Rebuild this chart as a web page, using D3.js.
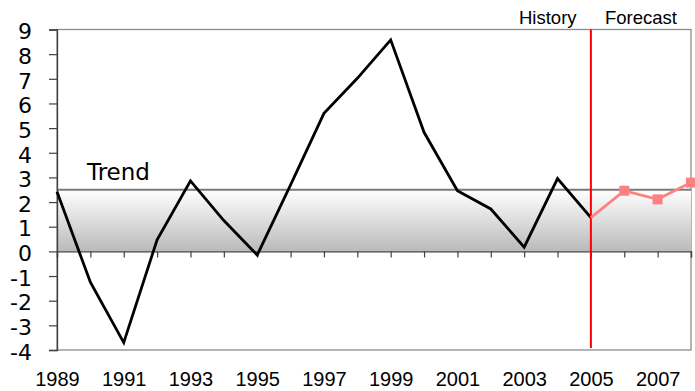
<!DOCTYPE html>
<html>
<head>
<meta charset="utf-8">
<script src="https://cdn.jsdelivr.net/npm/d3@7"></script>
<style>
  html, body { margin: 0; padding: 0; background: #fff; }
  svg { display: block; }
</style>
</head>
<body>
<svg id="chart" width="695" height="391"></svg>
<script>
// Annual values, history through 2005, forecast after
const historyYears = [1989, 1990, 1991, 1992, 1993, 1994, 1995, 1996, 1997, 1998,
                      1999, 2000, 2001, 2002, 2003, 2004, 2005];
const historyValues = [2.42, -1.25, -3.7, 0.47, 2.86, 1.25, -0.15, 2.7, 5.6, 7.02,
                       8.58, 4.83, 2.46, 1.72, 0.17, 2.95, 1.37];
const forecastYears = [2005, 2006, 2007, 2008];
const forecastValues = [1.37, 2.46, 2.11, 2.79];
const trendValue = 2.5;
const splitYear = 2005;
const yTicks = [-4, -3, -2, -1, 0, 1, 2, 3, 4, 5, 6, 7, 8, 9];
const xLabelYears = [1989, 1991, 1993, 1995, 1997, 1999, 2001, 2003, 2005, 2007];

const svg = d3.select("#chart");
const plotLeft = 57, plotRight = 691, plotTop = 29.5, plotBottom = 350;

const x = d3.scaleLinear().domain([1989, 2008]).range([plotLeft, plotRight]);
const y = d3.scaleLinear().domain([-4, 9]).range([plotBottom, plotTop]);

// band gradient
const defs = svg.append("defs");
const grad = defs.append("linearGradient").attr("id", "bandGrad")
  .attr("x1", 0).attr("y1", 0).attr("x2", 0).attr("y2", 1);
grad.append("stop").attr("offset", "0%").attr("stop-color", "#ffffff");
grad.append("stop").attr("offset", "100%").attr("stop-color", "#bababa");

// plot frame
svg.append("rect")
  .attr("x", plotLeft).attr("y", plotTop)
  .attr("width", plotRight - plotLeft).attr("height", plotBottom - plotTop)
  .attr("fill", "#fff").attr("stroke", "#8c8c8c").attr("stroke-width", 1.3);

// trend band
svg.append("rect")
  .attr("x", plotLeft).attr("y", y(trendValue))
  .attr("width", plotRight - plotLeft).attr("height", y(0) - y(trendValue))
  .attr("fill", "url(#bandGrad)");
svg.append("line")
  .attr("x1", plotLeft).attr("x2", plotRight)
  .attr("y1", y(trendValue)).attr("y2", y(trendValue))
  .attr("stroke", "#7a7a7a").attr("stroke-width", 1.8);

svg.append("text")
  .attr("x", 87).attr("y", y(trendValue) - 10)
  .attr("font-family", "DejaVu Sans")
  .attr("font-size", 23)
  .attr("fill", "#000")
  .text("Trend");

// y axis (plain hyphen for negatives)
const yAxis = d3.axisLeft(y).tickValues(yTicks).tickSize(8).tickPadding(17)
  .tickFormat(d => String(d));
const gy = svg.append("g").attr("transform", `translate(${plotLeft},0)`).call(yAxis);
gy.select(".domain").attr("stroke", "#404040").attr("stroke-width", 1.3);
gy.selectAll(".tick line").attr("stroke", "#404040").attr("stroke-width", 1.2);
gy.selectAll(".tick text")
  .attr("font-family", "DejaVu Sans")
  .attr("font-size", 22)
  .attr("fill", "#000")
  .attr("dy", "0.42em");

// zero axis with year ticks hanging below
const xAxis = d3.axisBottom(x).tickValues(d3.range(1989, 2009)).tickSize(6)
  .tickFormat("");
const gx = svg.append("g").attr("transform", `translate(0,${y(0)})`).call(xAxis);
gx.select(".domain").attr("stroke", "#404040").attr("stroke-width", 1.3);
gx.selectAll(".tick line").attr("stroke", "#404040").attr("stroke-width", 1.2);

// year labels along the bottom
const xLabels = d3.axisBottom(x).tickValues(xLabelYears).tickSize(0).tickPadding(22)
  .tickFormat(d => String(d));
const gl = svg.append("g").attr("transform", `translate(0,${plotBottom})`).call(xLabels);
gl.select(".domain").remove();
gl.selectAll(".tick text")
  .attr("font-family", "Liberation Sans Narrow, Liberation Sans")
  .attr("font-size", 20)
  .attr("fill", "#000");

// history line
const line = d3.line().x(d => x(d[0])).y(d => y(d[1]));
svg.append("path")
  .datum(d3.zip(historyYears, historyValues))
  .attr("d", line)
  .attr("fill", "none")
  .attr("stroke", "#000")
  .attr("stroke-width", 2.8)
  .attr("stroke-linejoin", "miter");

// history / forecast divider
svg.append("line")
  .attr("x1", x(splitYear)).attr("x2", x(splitYear))
  .attr("y1", plotTop).attr("y2", plotBottom - 2)
  .attr("stroke", "#ff0000").attr("stroke-width", 2);

// forecast line and markers
svg.append("path")
  .datum(d3.zip(forecastYears, forecastValues))
  .attr("d", line)
  .attr("fill", "none")
  .attr("stroke", "#ff8080")
  .attr("stroke-width", 2.8);
svg.selectAll("rect.marker")
  .data(d3.zip(forecastYears, forecastValues).slice(1))
  .join("rect")
  .attr("class", "marker")
  .attr("x", d => x(d[0]) - 5).attr("y", d => y(d[1]) - 5)
  .attr("width", 10).attr("height", 10)
  .attr("fill", "#ff8080");

// section headings
svg.append("text")
  .attr("x", 519).attr("y", 23.5)
  .attr("font-family", "Liberation Sans")
  .attr("font-size", 18.5)
  .attr("fill", "#000")
  .text("History");
svg.append("text")
  .attr("x", 605).attr("y", 23.5)
  .attr("font-family", "Liberation Sans")
  .attr("font-size", 18.5)
  .attr("fill", "#000")
  .text("Forecast");
</script>
</body>
</html>
